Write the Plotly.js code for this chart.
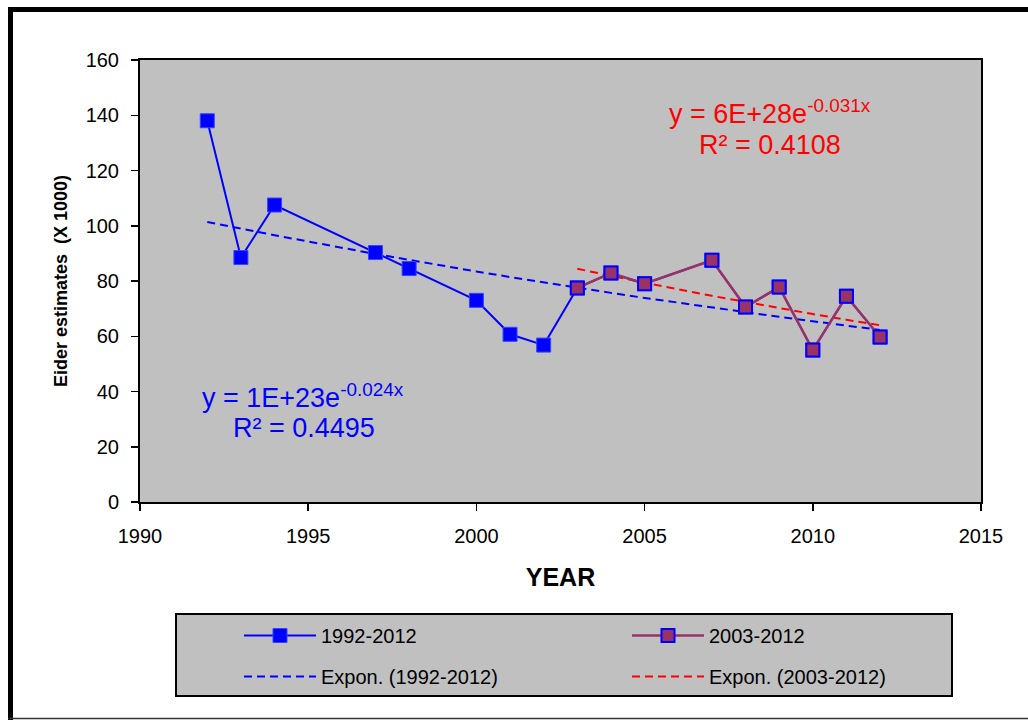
<!DOCTYPE html>
<html>
<head>
<meta charset="utf-8">
<script src="https://cdn.plot.ly/plotly-3.0.1.min.js"></script>
<style>html,body{margin:0;padding:0;background:#fff;}#chart{width:1028px;height:720px;}</style>
</head>
<body>
<div id="chart"></div>
<script>
// ---- data ----
var yearsAll = [1992, 1993, 1994, 1997, 1998, 2000, 2001, 2002, 2003, 2004, 2005, 2007, 2008, 2009, 2010, 2011, 2012];
var eidersAll = [138, 88.5, 107.5, 90.3, 84.5, 73, 60.7, 56.8, 77.5, 82.9, 79, 87.5, 70.6, 77.8, 55, 74.5, 59.7];
var yearsRecent = [2003, 2004, 2005, 2007, 2008, 2009, 2010, 2011, 2012];
var eidersRecent = [77.5, 82.9, 79, 87.5, 70.6, 77.8, 55, 74.5, 59.7];
var seriesNames = ['1992-2012', '2003-2012', 'Expon. (1992-2012)', 'Expon. (2003-2012)'];
var eqAll = ['y = 1E+23e<sup>-0.024x</sup>', 'R² = 0.4495'];
var eqRecent = ['y = 6E+28e<sup>-0.031x</sup>', 'R² = 0.4108'];
var yTicks = [0, 20, 40, 60, 80, 100, 120, 140, 160];
var xTicks = [1990, 1995, 2000, 2005, 2010, 2015];

// exponential least-squares fit (as a spreadsheet trendline does)
function expFit(xs, ys) {
  var n = xs.length, mx = 0, my = 0;
  for (var i = 0; i < n; i++) { mx += xs[i]; my += Math.log(ys[i]); }
  mx /= n; my /= n;
  var sxy = 0, sxx = 0;
  for (var j = 0; j < n; j++) { sxy += (xs[j] - mx) * (Math.log(ys[j]) - my); sxx += (xs[j] - mx) * (xs[j] - mx); }
  var b = sxy / sxx, a = my - b * mx;
  return xs.map(function (x) { return Math.exp(a + b * x); });
}
var trendAll = expFit(yearsAll, eidersAll);
var trendRecent = expFit(yearsRecent, eidersRecent);

// ---- layout geometry ----
var W = 1028, H = 720, L = 140, R = 47, T = 60, B = 218;
var pw = W - L - R, ph = H - T - B;
function px(x) { return (x - L) / pw; }
function py(y) { return (H - B - y) / ph; }
var FONT = 'Liberation Sans, Arial, sans-serif';

var traces = [
  { x: yearsAll, y: trendAll, name: seriesNames[2], mode: 'lines', legend: 'legend', legendgroup: 'g3', legendrank: 2,
    line: { color: '#0000FF', width: 2, dash: '8px,5px' }, hoverinfo: 'skip' },
  { x: yearsRecent, y: trendRecent, name: seriesNames[3], mode: 'lines', legend: 'legend2', legendgroup: 'g4', legendrank: 2,
    line: { color: '#FF0000', width: 2, dash: '8px,5px' }, hoverinfo: 'skip' },
  { x: yearsAll, y: eidersAll, name: seriesNames[0], mode: 'lines+markers', legend: 'legend', legendgroup: 'g1', legendrank: 1,
    line: { color: '#0000FF', width: 2 },
    marker: { symbol: 'square', size: 14, color: '#0000FF', line: { color: '#3344FF', width: 1 } } },
  { x: yearsRecent, y: eidersRecent, name: seriesNames[1], mode: 'lines+markers', legend: 'legend2', legendgroup: 'g2', legendrank: 1,
    line: { color: '#993366', width: 2.5 },
    marker: { symbol: 'square', size: 13, color: '#993366', line: { color: '#0000FF', width: 2 } } }
];

var legendCommon = {
  orientation: 'v', bgcolor: 'rgba(0,0,0,0)', borderwidth: 0,
  font: { family: FONT, size: 20, color: '#000' },
  itemwidth: 72, tracegroupgap: 12, traceorder: 'grouped',
  xanchor: 'left', yanchor: 'top'
};
var legend1 = Object.assign({}, legendCommon, { x: px(239), y: py(616) });
var legend2 = Object.assign({}, legendCommon, { x: px(627), y: py(616) });

var annFont = function (c) { return { family: FONT, size: 27, color: c }; };
var layout = {
  width: W, height: H,
  margin: { l: L, r: R, t: T, b: B, pad: 0 },
  paper_bgcolor: '#FFFFFF', plot_bgcolor: '#C0C0C0',
  showlegend: true,
  legend: legend1, legend2: legend2,
  xaxis: {
    range: [1990, 2015], tickmode: 'array', tickvals: xTicks, ticktext: xTicks.map(String),
    showgrid: false, zeroline: false, showline: true, linecolor: '#000', linewidth: 2, mirror: true,
    ticks: 'outside', ticklen: 7, tickwidth: 1.5, tickcolor: '#000', ticklabelstandoff: 8,
    tickfont: { family: FONT, size: 20, color: '#000' },
    title: { text: '<b>YEAR</b>', font: { family: FONT, size: 25, color: '#000' }, standoff: 22 }
  },
  yaxis: {
    range: [0, 160], tickmode: 'array', tickvals: yTicks, ticktext: yTicks.map(String),
    showgrid: false, zeroline: false, showline: true, linecolor: '#000', linewidth: 2, mirror: true,
    ticks: 'outside', ticklen: 7, tickwidth: 1.5, tickcolor: '#000', ticklabelstandoff: 8,
    tickfont: { family: FONT, size: 20, color: '#000' },
    title: { text: '<b>Eider estimates  (X 1000)</b>', font: { family: FONT, size: 18, color: '#000' }, standoff: 13 }
  },
  shapes: [
    // outer frame
    { type: 'line', xref: 'paper', yref: 'paper', x0: px(10.5), x1: px(10.5), y0: py(7), y1: py(720), line: { color: '#000', width: 5 } },
    { type: 'line', xref: 'paper', yref: 'paper', x0: px(8), x1: px(1028), y0: py(9.5), y1: py(9.5), line: { color: '#000', width: 5 } },
    { type: 'line', xref: 'paper', yref: 'paper', x0: px(8), x1: px(1028), y0: py(718.5), y1: py(718.5), line: { color: '#333', width: 1.5 } },
    // legend box
    { type: 'rect', xref: 'paper', yref: 'paper', layer: 'below', x0: px(176), x1: px(952), y0: py(614), y1: py(696),
      fillcolor: '#C0C0C0', line: { color: '#000', width: 2 } }
  ],
  annotations: [
    { xref: 'paper', yref: 'paper', x: px(770), y: py(112), text: eqRecent[0], showarrow: false, font: annFont('#FF0000'), xanchor: 'center', yanchor: 'middle' },
    { xref: 'paper', yref: 'paper', x: px(770), y: py(145), text: eqRecent[1], showarrow: false, font: annFont('#FF0000'), xanchor: 'center', yanchor: 'middle' },
    { xref: 'paper', yref: 'paper', x: px(303), y: py(396), text: eqAll[0], showarrow: false, font: annFont('#0000FF'), xanchor: 'center', yanchor: 'middle' },
    { xref: 'paper', yref: 'paper', x: px(304), y: py(428), text: eqAll[1], showarrow: false, font: annFont('#0000FF'), xanchor: 'center', yanchor: 'middle' }
  ]
};

Plotly.newPlot('chart', traces, layout, { staticPlot: true, displayModeBar: false });
</script>
</body>
</html>
